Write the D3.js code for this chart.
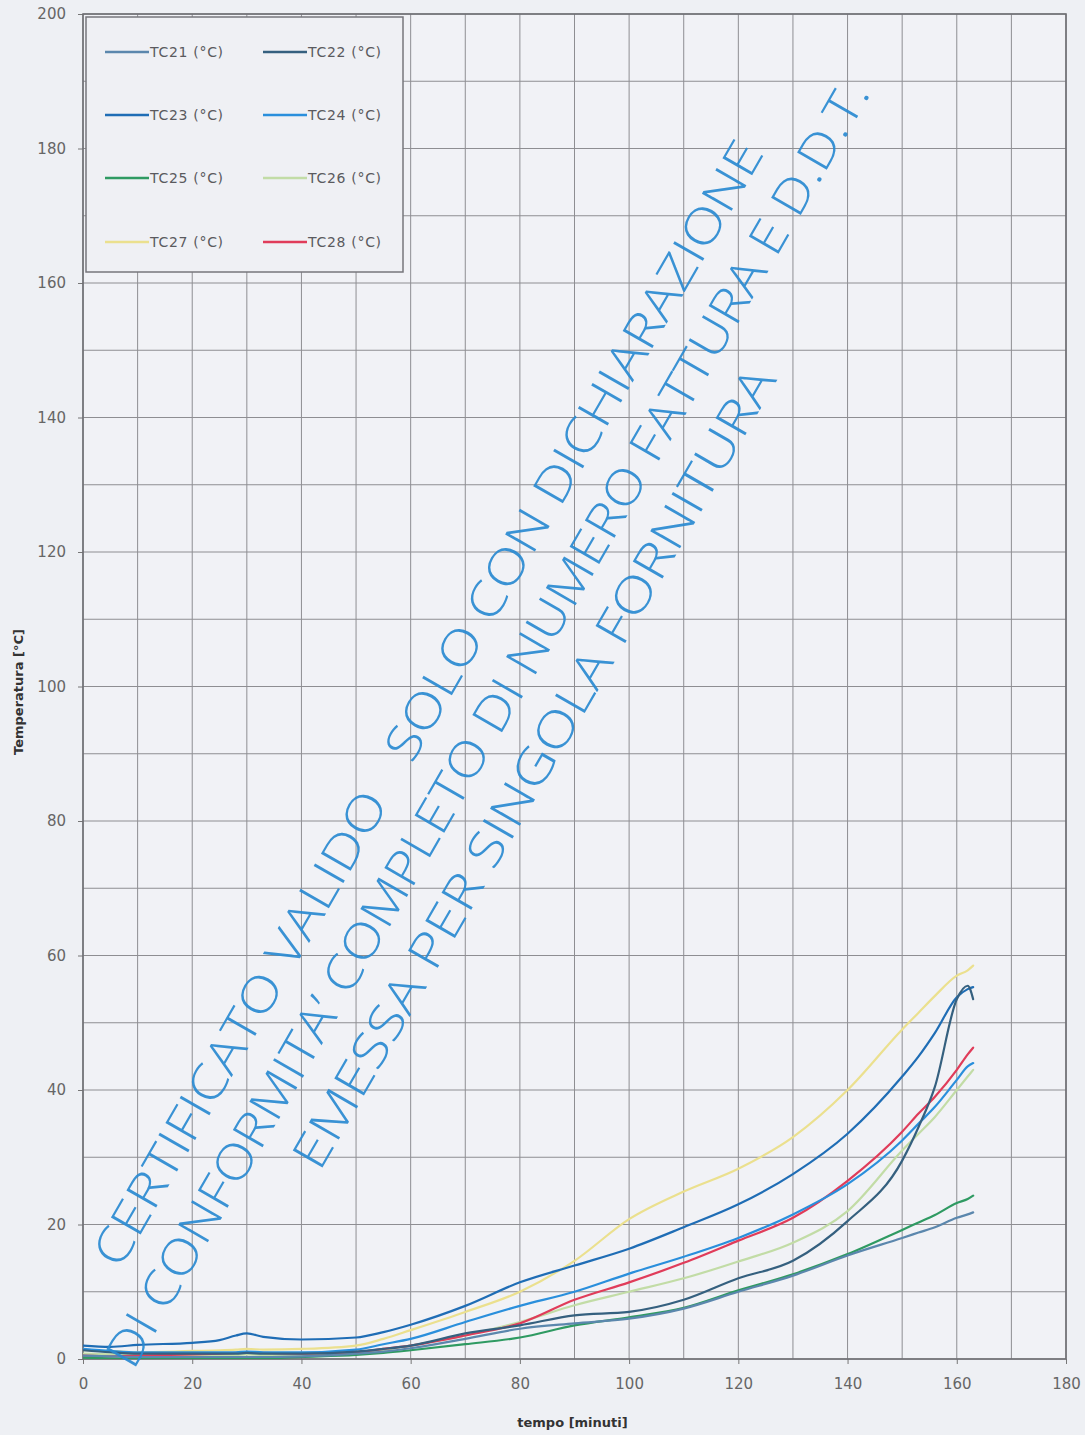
<!DOCTYPE html>
<html>
<head>
<meta charset="utf-8">
<script src="https://cdn.jsdelivr.net/npm/d3@7/dist/d3.min.js"></script>
<style>
  html, body { margin: 0; padding: 0; background: #eef0f4; }
  svg { display: block; }
</style>
</head>
<body>
<svg id="chart" width="1085" height="1435"></svg>
<script>
// ---------------- DATA ----------------
const times = [0,5,10,20,25,28,30,33,40,50,55,60,70,80,90,100,110,120,130,140,150,153,156,160,162,163];
const tc21 = [0.5,0.4,0.3,0.3,0.3,0.3,0.3,0.3,0.4,0.8,1.1,1.6,3.0,4.5,5.3,6.0,7.5,10.0,12.4,15.4,18.0,18.8,19.6,21.0,21.5,21.8];
const tc22 = [1.3,1.0,0.8,0.8,0.8,0.8,0.9,0.8,0.8,1.1,1.5,2.0,3.8,5.0,6.5,7.0,8.8,12.0,14.6,20.5,29.5,34.5,40.5,53.5,55.5,53.5];
const tc23 = [2.0,1.8,2.1,2.4,2.8,3.5,3.8,3.3,2.9,3.2,4.0,5.1,7.9,11.4,13.9,16.4,19.6,23.0,27.5,33.5,42.0,45.0,48.5,53.8,55.0,55.3];
const tc24 = [1.5,1.2,1.0,1.0,1.0,1.0,1.1,1.0,1.0,1.4,2.2,3.0,5.5,7.9,10.0,12.7,15.2,18.0,21.5,26.0,32.5,35.0,37.5,41.5,43.5,44.0];
const tc25 = [0.2,0.1,0.0,0.0,0.0,0.0,0.1,0.1,0.3,0.6,0.9,1.3,2.2,3.2,5.0,6.2,7.6,10.2,12.6,15.6,19.2,20.3,21.4,23.2,23.8,24.3];
const tc26 = [0.8,0.7,0.6,0.6,0.6,0.6,0.7,0.6,0.6,0.9,1.3,2.0,3.5,5.5,8.0,10.0,12.0,14.5,17.3,22.0,31.0,33.5,36.0,40.0,42.0,43.0];
const tc27 = [1.3,1.2,1.0,1.2,1.3,1.4,1.5,1.4,1.5,2.0,3.0,4.3,7.0,10.0,14.6,20.8,24.9,28.3,33.0,40.0,49.0,51.5,54.0,57.0,57.8,58.5];
const tc28 = [0.5,0.4,0.5,0.7,0.8,0.9,1.0,0.9,0.8,1.0,1.5,2.0,3.5,5.3,8.8,11.4,14.3,17.6,21.0,26.5,33.8,36.5,39.0,43.0,45.3,46.3];

const seriesNames  = ["TC21 (°C)","TC22 (°C)","TC23 (°C)","TC24 (°C)","TC25 (°C)","TC26 (°C)","TC27 (°C)","TC28 (°C)"];
const seriesValues = [tc21, tc22, tc23, tc24, tc25, tc26, tc27, tc28];
const seriesColors = ["#5b87ad","#35607f","#1f6db5","#2a8fdc","#2f9a62","#c2dca6","#ebe08e","#e03c5a"];

const xTicks = [0,20,40,60,80,100,120,140,160,180];
const yTicks = [0,20,40,60,80,100,120,140,160,180,200];
const xGrid = d3.range(0, 181, 10);
const yGrid = d3.range(0, 201, 10);

const watermarkLines = [
  "CERTIFICATO VALIDO   SOLO CON DICHIARAZIONE",
  "DI CONFORMITA\u2019 COMPLETO DI NUMERO FATTURA E D.D.T.",
  "EMESSA PER SINGOLA FORNITURA"
];

// ---------------- LAYOUT ----------------
const L = 83, R = 1066, T = 14, B = 1359;
const svg = d3.select("#chart");
const x = d3.scaleLinear().domain([0, 180]).range([L, R]);
const y = d3.scaleLinear().domain([0, 200]).range([B, T]);

svg.append("rect").attr("width", 1085).attr("height", 1435).attr("fill", "#eef0f4");
svg.append("rect").attr("x", L).attr("y", T).attr("width", R - L).attr("height", B - T).attr("fill", "#f1f2f6");

// grid
const grid = svg.append("g");
grid.selectAll("line.v").data(xGrid).join("line")
  .attr("x1", d => x(d)).attr("x2", d => x(d)).attr("y1", T).attr("y2", B)
  .attr("stroke", "#8e8e92").attr("stroke-width", 1);
grid.selectAll("line.h").data(yGrid).join("line")
  .attr("x1", L).attr("x2", R).attr("y1", d => y(d)).attr("y2", d => y(d))
  .attr("stroke", "#8e8e92").attr("stroke-width", 1);

// axes
const xAxis = svg.append("g").attr("transform", `translate(0,${B})`)
  .call(d3.axisBottom(x).tickValues(xTicks).tickSize(5).tickPadding(14));
const yAxis = svg.append("g").attr("transform", `translate(${L},0)`)
  .call(d3.axisLeft(y).tickValues(yTicks).tickSize(5).tickPadding(12));
[xAxis, yAxis].forEach(a => {
  a.select(".domain").remove();
  a.selectAll(".tick line").attr("stroke", "#777");
  a.selectAll(".tick text").attr("fill", "#666").style("font-family", "'DejaVu Sans', sans-serif").style("font-size", "15px");
});

// frame
svg.append("rect").attr("x", L).attr("y", T).attr("width", R - L).attr("height", B - T)
  .attr("fill", "none").attr("stroke", "#6f6f74").attr("stroke-width", 1.6);

// axis titles
svg.append("text").attr("x", (L + R) / 2 - 2).attr("y", 1427).attr("text-anchor", "middle")
  .style("font-family", "'DejaVu Sans', sans-serif").style("font-size", "13px").style("font-weight", "bold")
  .attr("fill", "#333").text("tempo [minuti]");
svg.append("text").attr("transform", "translate(23,692) rotate(-90)").attr("text-anchor", "middle")
  .style("font-family", "'DejaVu Sans', sans-serif").style("font-size", "13px").style("font-weight", "bold")
  .attr("fill", "#333").text("Temperatura [°C]");

// lines
svg.append("clipPath").attr("id", "clip").append("rect")
  .attr("x", L).attr("y", T).attr("width", R - L).attr("height", B - T);
const line = d3.line().x((d, i) => x(times[i])).y(d => y(d)).curve(d3.curveMonotoneX);
const drawOrder = [6, 5, 7, 3, 2, 4, 0, 1];
svg.append("g").attr("clip-path", "url(#clip)")
  .selectAll("path").data(drawOrder).join("path")
  .attr("d", k => line(seriesValues[k]))
  .attr("fill", "none").attr("stroke", k => seriesColors[k])
  .attr("stroke-width", 2.2).attr("stroke-linejoin", "round").attr("stroke-linecap", "round");

// legend
const lg = svg.append("g");
lg.append("rect").attr("x", 86).attr("y", 17).attr("width", 317).attr("height", 255)
  .attr("fill", "#eff0f4").attr("stroke", "#77777c").attr("stroke-width", 1.5);
const legX = [105, 263], legY = [52, 115, 178, 242];
seriesNames.forEach((name, i) => {
  const cx = legX[i % 2], cy = legY[Math.floor(i / 2)];
  lg.append("line").attr("x1", cx).attr("x2", cx + 44).attr("y1", cy).attr("y2", cy)
    .attr("stroke", seriesColors[i]).attr("stroke-width", 2.4);
  lg.append("text").attr("x", cx + 45).attr("y", cy + 5)
    .style("font-family", "'DejaVu Sans', sans-serif").style("font-size", "14px")
    .style("letter-spacing", "0.7px")
    .attr("fill", "#5a5a5e").text(name);
});

// watermark stamp
const wm = svg.append("g").attr("transform", "rotate(-60)");
const wmPos = [
  {u: -1040, v: 739, len: 1290},
  {u: -1121, v: 801, len: 1476},
  {u: -856,  v: 863, len: 916}
];
watermarkLines.forEach((t, i) => {
  wm.append("text").attr("x", wmPos[i].u).attr("y", wmPos[i].v)
    .attr("textLength", wmPos[i].len).attr("lengthAdjust", "spacingAndGlyphs")
    .style("white-space", "pre")
    .style("font-family", "'Open Sans', 'DejaVu Sans', sans-serif").style("font-weight", "300")
    .style("font-size", "48px").attr("fill", "#2a8ad2").attr("opacity", 0.92)
    .text(t);
});
</script>
</body>
</html>
